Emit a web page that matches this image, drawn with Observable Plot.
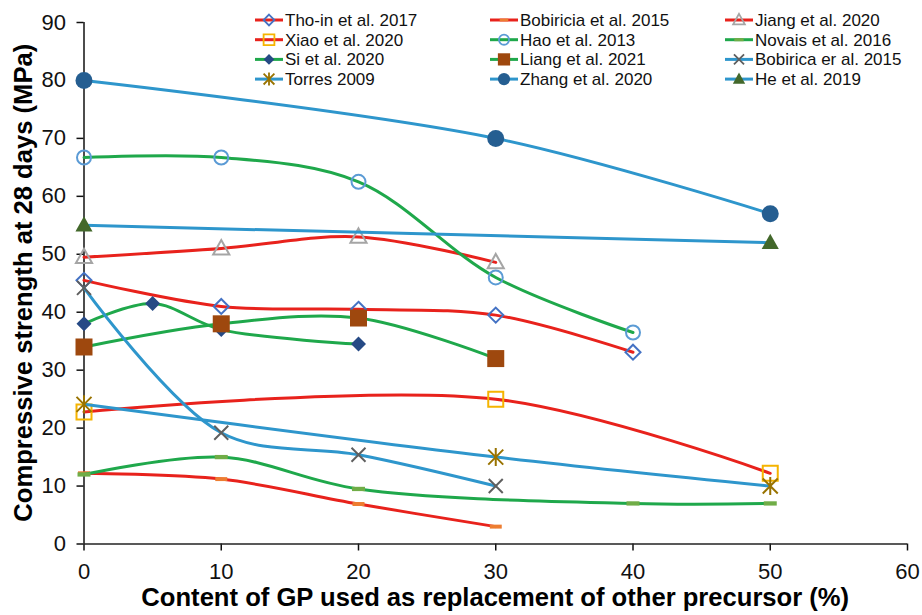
<!DOCTYPE html>
<html><head><meta charset="utf-8">
<script src="https://cdn.jsdelivr.net/npm/d3@7"></script>
<script src="https://cdn.jsdelivr.net/npm/@observablehq/plot@0.6"></script>
<style>body{margin:0;background:#fff} #chart{width:922px;height:615px}</style>
</head><body><div id="chart"></div>
<script>
// ---- data ----
const xTicks = [0, 10, 20, 30, 40, 50, 60];
const yTicks = [0, 10, 20, 30, 40, 50, 60, 70, 80, 90];
const xTitle = "Content of GP used as replacement of other precursor (%)";
const yTitle = "Compressive strength at 28 days (MPa)";

const seriesNames = ["Tho-in et al. 2017", "Bobiricia et al. 2015", "Jiang et al. 2020",
  "Xiao et al. 2020", "Hao et al. 2013", "Novais et al. 2016",
  "Si et al. 2020", "Liang et al. 2021", "Bobirica er al. 2015",
  "Torres 2009", "Zhang et al. 2020", "He et al. 2019"];

const thoInX = [0, 10, 20, 30, 40];      const thoInY = [45.5, 41, 40.5, 39.5, 33.1];
const bobiriciaX = [0, 10, 20, 30];      const bobiriciaY = [12.2, 11.2, 6.9, 3];
const jiangX = [0, 10, 20, 30];          const jiangY = [49.5, 51, 53, 48.6];
const xiaoX = [0, 30, 50];               const xiaoY = [22.8, 25, 12.2];
const haoX = [0, 10, 20, 30, 40];        const haoY = [66.7, 66.7, 62.5, 46, 36.5];
const novaisX = [0, 10, 20, 40, 50];     const novaisY = [12, 15, 9.5, 7, 7];
const siX = [0, 5, 10, 20];              const siY = [38, 41.5, 37, 34.5];
const liangX = [0, 10, 20, 30];          const liangY = [34, 38, 39, 32];
const bobiricaX = [0, 10, 20, 30];       const bobiricaY = [44.2, 19.2, 15.4, 10];
const torresX = [0, 30, 50];             const torresY = [24.1, 15, 10];
const zhangX = [0, 30, 50];              const zhangY = [80, 70, 57];
const heX = [0, 50];                     const heY = [55, 52];

const seriesX = [thoInX, bobiriciaX, jiangX, xiaoX, haoX, novaisX, siX, liangX, bobiricaX, torresX, zhangX, heX];
const seriesY = [thoInY, bobiriciaY, jiangY, xiaoY, haoY, novaisY, siY, liangY, bobiricaY, torresY, zhangY, heY];

// ---- styles ----
const RED = "#e8221c", GREEN = "#1fa84b", BLUE = "#2e96cc";
const rad = s => Math.sqrt(s / Math.PI);
const SYM = {
  circle: {draw(c, s) { const r = rad(s); c.moveTo(r, 0); c.arc(0, 0, r, 0, 2 * Math.PI); c.closePath(); }},
  square: {draw(c, s) { const r = rad(s); c.rect(-r, -r, 2 * r, 2 * r); }},
  diamond: {draw(c, s) { const r = rad(s); c.moveTo(0, -r); c.lineTo(r, 0); c.lineTo(0, r); c.lineTo(-r, 0); c.closePath(); }},
  triangle: {draw(c, s) { const r = rad(s); c.moveTo(0, -r); c.lineTo(r * 0.95, r * 0.7); c.lineTo(-r * 0.95, r * 0.7); c.closePath(); }},
  times: {draw(c, s) { const r = rad(s); c.moveTo(-r, -r); c.lineTo(r, r); c.moveTo(-r, r); c.lineTo(r, -r); }},
  asterisk: {draw(c, s) { const r = rad(s); c.moveTo(-r, -r); c.lineTo(r, r); c.moveTo(-r, r); c.lineTo(r, -r); c.moveTo(0, -r * 1.2); c.lineTo(0, r * 1.2); }},
  dash: {draw(c, s) { const r = rad(s); c.rect(-r, -r * 0.33, 2 * r, r * 0.66); }}
};
// line colour, symbol, fill, stroke, half size
const styles = [
  {line: RED,   sym: "diamond",  fill: "none",    stroke: "#4472c4", r: 7.5},
  {line: RED,   sym: "dash",     fill: "#ed7d31", stroke: "none",    r: 6},
  {line: RED,   sym: "triangle", fill: "none",    stroke: "#a5a5a5", r: 8.5},
  {line: RED,   sym: "square",   fill: "none",    stroke: "#f5b400", r: 7.5},
  {line: GREEN, sym: "circle",   fill: "none",    stroke: "#5b9bd5", r: 7},
  {line: GREEN, sym: "dash",     fill: "#70ad47", stroke: "none",    r: 6.5},
  {line: GREEN, sym: "diamond",  fill: "#264a85", stroke: "none",    r: 7.5},
  {line: GREEN, sym: "square",   fill: "#9e480e", stroke: "none",    r: 8.5},
  {line: BLUE,  sym: "times",    fill: "none",    stroke: "#5f5f5f", r: 7},
  {line: BLUE,  sym: "asterisk", fill: "none",    stroke: "#997300", r: 7.5},
  {line: BLUE,  sym: "circle",   fill: "#255e91", stroke: "none",    r: 8.5},
  {line: BLUE,  sym: "triangle", fill: "#43682b", stroke: "none",    r: 9}
];

const tables = seriesNames.map((name, i) => seriesX[i].map((x, j) => ({name, x, y: seriesY[i][j]})));

const seriesMarks = tables.flatMap((t, i) => {
  const st = styles[i];
  return [
    Plot.line(t, {x: "x", y: "y", stroke: st.line, strokeWidth: 3, curve: "catmull-rom"}),
    Plot.dot(t, {x: "x", y: "y", symbol: SYM[st.sym], r: st.r, fill: st.fill, stroke: st.stroke, strokeWidth: 2})
  ];
});

const FONT = "Liberation Sans, Arial, Helvetica, sans-serif";

const chart = Plot.plot({
  width: 922, height: 615,
  marginLeft: 83.5, marginRight: 15, marginTop: 22, marginBottom: 71.5,
  style: {fontFamily: FONT, fontSize: "22px", color: "#111", background: "#fff", overflow: "visible"},
  x: {domain: [0, 60]},
  y: {domain: [0, 90]},
  marks: [
    Plot.axisX({ticks: xTicks, tickSize: 7, tickPadding: 12, label: null, fontSize: 22, strokeWidth: 1.5}),
    Plot.axisY({ticks: yTicks, tickSize: 7, tickPadding: 11, label: null, fontSize: 22, strokeWidth: 1.5}),
    Plot.ruleY([0], {stroke: "#222", strokeWidth: 1.5}),
    Plot.ruleX([0], {stroke: "#111", strokeWidth: 1.5}),
    ...seriesMarks
  ]
});

const svg = d3.select(chart);
svg.append("text")
  .attr("x", (83.5 + 907) / 2).attr("y", 606)
  .attr("text-anchor", "middle")
  .attr("font-family", FONT).attr("font-size", 25.6).attr("font-weight", "bold").attr("fill", "#000")
  .text(xTitle);
svg.append("text")
  .attr("transform", `translate(32,${(22 + 543.5) / 2}) rotate(-90)`)
  .attr("text-anchor", "middle")
  .attr("font-family", FONT).attr("font-size", 25.6).attr("font-weight", "bold").attr("fill", "#000")
  .text(yTitle);

// legend (3 columns x 4 rows)
const legend = svg.append("g").attr("font-family", FONT).attr("font-size", 17)
  .attr("fill", "#111").attr("text-anchor", "start");
const colX = [255, 490, 725];
seriesNames.forEach((name, i) => {
  const st = styles[i];
  const cx = colX[i % 3], cy = 20 + Math.floor(i / 3) * 19.7;
  const g = legend.append("g").attr("transform", `translate(${cx},${cy})`);
  g.append("line").attr("x1", 0).attr("x2", 28).attr("y1", 0).attr("y2", 0)
    .attr("stroke", st.line).attr("stroke-width", 3);
  const lr = st.r * 0.72;
  g.append("path").attr("transform", "translate(14,0)")
    .attr("d", d3.symbol(SYM[st.sym], Math.PI * lr * lr)())
    .attr("fill", st.fill).attr("stroke", st.stroke).attr("stroke-width", 1.8);
  g.append("text").attr("x", 30).attr("dy", "0.35em").attr("text-anchor", "start").text(name);
});

document.getElementById("chart").appendChild(chart);
</script></body></html>
